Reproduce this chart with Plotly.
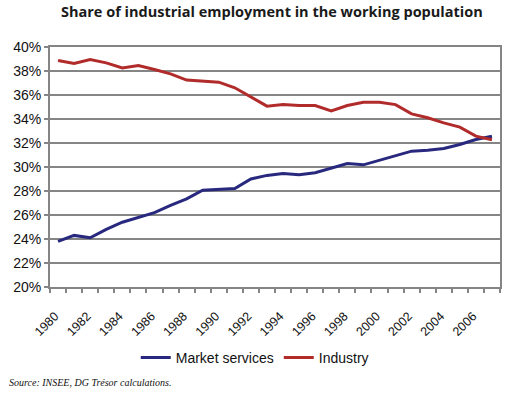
import plotly.graph_objects as go

years = list(range(1980, 2008))
market_services = [23.8, 24.3, 24.1, 24.8, 25.4, 25.8, 26.2, 26.8, 27.35, 28.07, 28.13, 28.2,
                   29.0, 29.3, 29.46, 29.35, 29.52, 29.93, 30.29, 30.18, 30.54, 30.9,
                   31.32, 31.4, 31.54, 31.88, 32.29, 32.57]
industry = [38.88, 38.62, 38.96, 38.68, 38.26, 38.46, 38.12, 37.76, 37.24, 37.15, 37.07, 36.6,
            35.8, 35.07, 35.2, 35.12, 35.12, 34.68, 35.12, 35.4, 35.4, 35.2,
            34.43, 34.1, 33.68, 33.32, 32.57, 32.27]
x_ticks = list(range(1980, 2007, 2))
x_labels = [str(y) for y in x_ticks]
y_ticks = list(range(20, 41, 2))
y_labels = [f"{v}%" for v in y_ticks]

fig = go.Figure()
fig.add_trace(go.Scatter(x=years, y=market_services, mode="lines", name="Market services",
                         line=dict(color="#28287F", width=3)))
fig.add_trace(go.Scatter(x=years, y=industry, mode="lines", name="Industry",
                         line=dict(color="#B22B2B", width=3)))

grey = "#858585"
fig.update_layout(
    width=510, height=396,
    margin=dict(l=50, r=10, t=47, b=109),
    paper_bgcolor="white", plot_bgcolor="white",
    xaxis=dict(range=[years[0] - 0.5, years[-1] + 0.5], tickmode="array",
               tickvals=x_ticks, ticktext=x_labels, ticks="", tickangle=-45,
               ticklabelstandoff=15, ticklabelshift=-3,
               minor=dict(tick0=years[0] - 0.5, dtick=1, ticks="outside", ticklen=4,
                          tickcolor=grey, tickwidth=1.5, showgrid=False),
               showgrid=False, showline=True, linecolor=grey, linewidth=2, mirror=True,
               zeroline=False, automargin=False,
               tickfont=dict(family="Liberation Sans, Arial", size=12.5, color="#111")),
    yaxis=dict(range=[20, 40], tickvals=y_ticks, ticktext=y_labels, ticks="outside",
               ticklen=4, tickcolor=grey, tickwidth=1.5,
               showgrid=True, gridcolor=grey, gridwidth=2,
               showline=True, linecolor=grey, linewidth=2, mirror=True, zeroline=False,
               automargin=False,
               tickfont=dict(family="Liberation Sans, Arial", size=14, color="#111")),
    legend=dict(orientation="h", x=0.455, xanchor="center", y=-0.295, yanchor="middle",
                font=dict(family="Liberation Sans, Arial", size=14, color="#111"),
                itemwidth=30),
    annotations=[
        dict(text="<b>Share of industrial employment in the working population</b>",
             xref="paper", yref="paper", x=0.493, y=1.146, xanchor="center", yanchor="middle",
             showarrow=False, font=dict(family="Open Sans, Arial", size=14.5, color="#1a1a1a")),
        dict(text="<i>Source: INSEE, DG Trésor calculations.</i>",
             xref="paper", yref="paper", x=-0.095, y=-0.396,
             xanchor="left", yanchor="middle", showarrow=False,
             font=dict(family="Liberation Serif, Times New Roman", size=10, color="#111")),
    ],
)

fig.write_html("out.html", config={"displayModeBar": False},
               post_script="document.body.style.margin='0';document.body.style.overflow='hidden';")
